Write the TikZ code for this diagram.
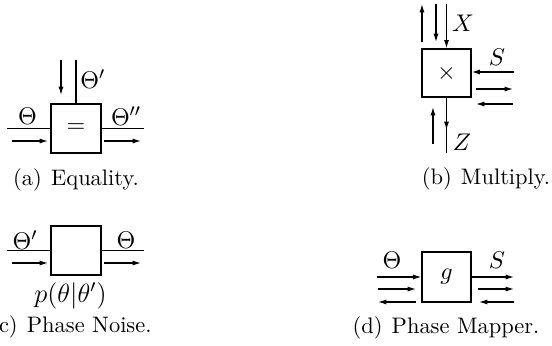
\documentclass[tikz,border=0pt]{standalone}
\usetikzlibrary{arrows.meta}
\begin{document}
\begin{tikzpicture}[x=0.4545pt,y=-0.4545pt,
  blk/.style={draw,line width=0.55pt,inner sep=0pt,font=\fontsize{11}{13}\selectfont},
  edge/.style={line width=0.55pt},
  msg/.style={line width=0.55pt,-{Latex[length=3.8pt,width=2.3pt]}},
  lbl/.style={inner sep=0pt,font=\fontsize{11}{13}\selectfont},
  captxt/.style={inner sep=0pt,font=\fontsize{10.2}{12}\selectfont},
]
\useasboundingbox (0,0) rectangle (552,346);

% ---------- (a) Equality ----------
\node[blk,minimum width=22.7pt,minimum height=22.3pt] (A) at (76,128.5) {$=$};
\coordinate (aL) at (7,128.5);
\coordinate (aR) at (144,128.5);
\coordinate (aT) at (76,60);
\draw[edge] (aL) -- (A.west);
\draw[edge] (A.east) -- (aR);
\draw[edge] (aT) -- (A.north);
\coordinate (a1s) at (12,141);  \coordinate (a1e) at (48,141);
\coordinate (a2s) at (104,141); \coordinate (a2e) at (141,141);
\coordinate (a3s) at (61,60);   \coordinate (a3e) at (61,95);
\draw[msg] (a1s) -- (a1e);
\draw[msg] (a2s) -- (a2e);
\draw[msg] (a3s) -- (a3e);
\node[lbl] (aLt) at (27.5,116) {$\Theta$};
\node[lbl,anchor=west] (aTt) at (80,79) {$\Theta'$};
\node[lbl] (aRt) at (126,116) {$\Theta''$};
\node[captxt] (aCap) at (76,180) {(a)\hspace{4.2pt}Equality.};

% ---------- (b) Multiply ----------
\node[blk,minimum width=22.3pt,minimum height=21.8pt] (B) at (446.5,73) {$\times$};
\coordinate (bT) at (446.5,4);
\coordinate (bR) at (514,72);
\coordinate (bB) at (446.5,153);
\coordinate (bBm) at (446.5,130);
\draw[msg] (bT) -- (B.north);
\draw[msg] (bR) -- (B.east |- bR);
\draw[edge] (B.south) -- (bB);
\draw[msg] (B.south) -- (bBm);
\coordinate (b1s) at (422,42);  \coordinate (b1e) at (422,4);
\coordinate (b2s) at (436,4);   \coordinate (b2e) at (436,42);
\coordinate (b3s) at (476,89);  \coordinate (b3e) at (513,89);
\coordinate (b4s) at (513,104); \coordinate (b4e) at (476,104);
\coordinate (b5s) at (433,144); \coordinate (b5e) at (433,107);
\draw[msg] (b1s) -- (b1e);
\draw[msg] (b2s) -- (b2e);
\draw[msg] (b3s) -- (b3e);
\draw[msg] (b4s) -- (b4e);
\draw[msg] (b5s) -- (b5e);
\node[lbl] (bX) at (463,23) {$X$};
\node[lbl] (bS) at (497,57) {$S$};
\node[lbl] (bZ) at (462,142) {$Z$};
\node[captxt] (bCap) at (486,179) {(b)\hspace{4.2pt}Multiply.};

% ---------- (c) Phase Noise ----------
\node[blk,minimum width=22.7pt,minimum height=22.3pt] (C) at (76,250.5) {};
\coordinate (cL) at (7,250.5);
\coordinate (cR) at (144,250.5);
\draw[edge] (cL) -- (C.west);
\draw[edge] (C.east) -- (cR);
\coordinate (c1s) at (12,263);  \coordinate (c1e) at (48,263);
\coordinate (c2s) at (104,263); \coordinate (c2e) at (141,263);
\draw[msg] (c1s) -- (c1e);
\draw[msg] (c2s) -- (c2e);
\node[lbl] (cLt) at (25,240) {$\Theta'$};
\node[lbl] (cRt) at (126,240) {$\Theta$};
\node[lbl,font=\fontsize{11.8}{14}\selectfont] (cP) at (70.5,295.5) {$p(\theta|\theta')$};
\node[captxt,anchor=east] (cCap) at (152,327) {(c)\hspace{4.2pt}Phase Noise.};

% ---------- (d) Phase Mapper ----------
\node[blk,minimum width=22.3pt,minimum height=22.7pt] (D) at (446.5,277) {$g$};
\coordinate (dL) at (377,277);
\coordinate (dR) at (514,277);
\draw[msg] (dL) -- (D.west);
\draw[msg] (D.east) -- (dR);
\coordinate (d1s) at (378,289); \coordinate (d1e) at (416,289);
\coordinate (d2s) at (416,302); \coordinate (d2e) at (378,302);
\coordinate (d3s) at (478,289); \coordinate (d3e) at (514,289);
\coordinate (d4s) at (514,302); \coordinate (d4e) at (479,302);
\draw[msg] (d1s) -- (d1e);
\draw[msg] (d2s) -- (d2e);
\draw[msg] (d3s) -- (d3e);
\draw[msg] (d4s) -- (d4e);
\node[lbl] (dT) at (392,260) {$\Theta$};
\node[lbl] (dS) at (497,260) {$S$};
\node[captxt] (dCap) at (446,328) {(d)\hspace{4.2pt}Phase Mapper.};
\end{tikzpicture}
\end{document}
